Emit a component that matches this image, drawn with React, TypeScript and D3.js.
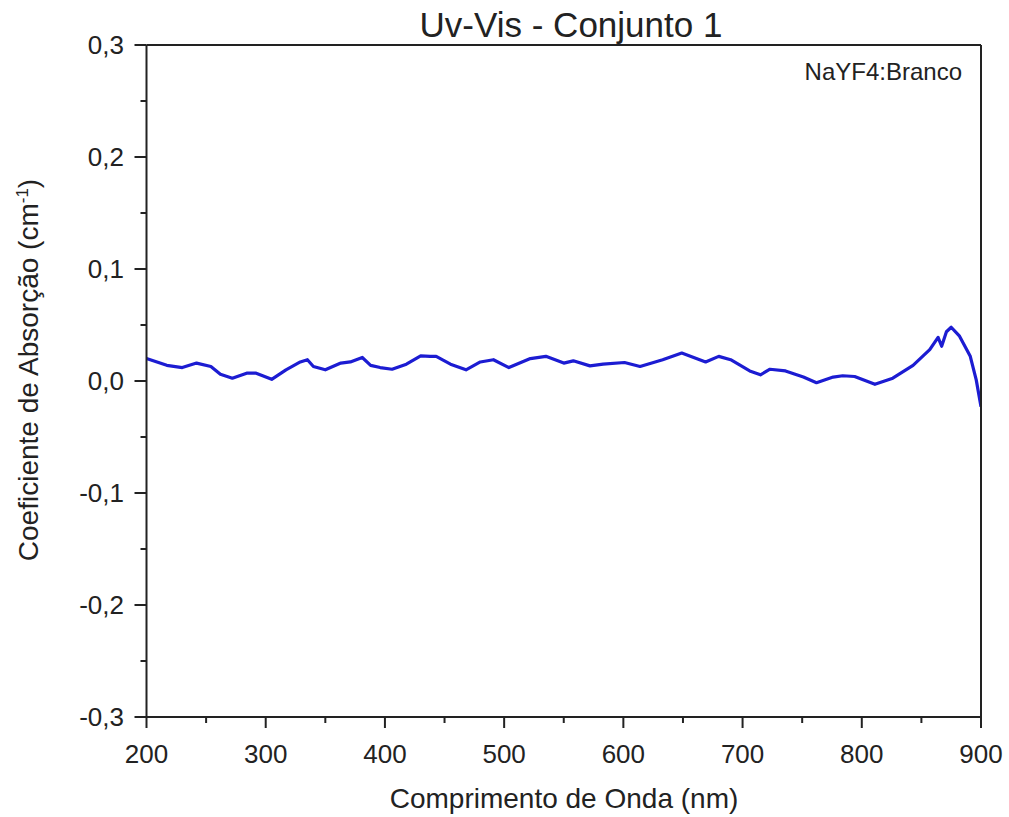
import React from "react";
import * as d3 from "d3";

const wavelengths = [200, 217, 230, 242, 254, 262, 272, 284, 292, 305, 317, 329, 335, 340, 350, 363, 371, 381, 388, 396, 406, 418, 430, 438, 443, 455, 468, 480, 491, 504, 522, 535, 550, 558, 572, 583, 601, 614, 633, 649, 659, 669, 680, 690, 706, 715, 723, 736, 751, 762, 776, 784, 794, 811, 826, 843, 857, 864, 867, 871, 875, 882, 891, 896, 900];
const absorption = [0.020, 0.014, 0.012, 0.016, 0.013, 0.006, 0.0025, 0.007, 0.007, 0.0015, 0.010, 0.017, 0.019, 0.013, 0.010, 0.016, 0.017, 0.021, 0.014, 0.012, 0.0105, 0.015, 0.0225, 0.022, 0.022, 0.015, 0.010, 0.017, 0.019, 0.012, 0.020, 0.022, 0.016, 0.018, 0.0135, 0.015, 0.0165, 0.013, 0.019, 0.025, 0.021, 0.017, 0.022, 0.019, 0.009, 0.0055, 0.0105, 0.009, 0.0035, -0.0015, 0.0035, 0.0047, 0.004, -0.003, 0.0025, 0.014, 0.028, 0.039, 0.031, 0.044, 0.048, 0.040, 0.022, 0.001, -0.023];

const xTicks = [200, 300, 400, 500, 600, 700, 800, 900];
const xMinorTicks = [250, 350, 450, 550, 650, 750, 850];
const yTicks = [-0.3, -0.2, -0.1, 0.0, 0.1, 0.2, 0.3];
const yMinorTicks = [-0.25, -0.15, -0.05, 0.05, 0.15, 0.25];

const title = "Uv-Vis - Conjunto 1";
const xLabel = "Comprimento de Onda (nm)";
const seriesLabel = "NaYF4:Branco";

const W = 1009;
const H = 817;
const left = 146.5;
const right = 981;
const top = 45;
const bottom = 717;
const FONT = "'Liberation Sans', Arial, Helvetica, sans-serif";

export default function App() {
  const x = d3.scaleLinear().domain([200, 900]).range([left, right]);
  const y = d3.scaleLinear().domain([-0.3, 0.3]).range([bottom, top]);
  const pts = wavelengths.map((w, i) => [w, absorption[i]] as [number, number]);
  const line = d3
    .line<[number, number]>()
    .x((d) => x(d[0]))
    .y((d) => y(d[1]))
    .curve(d3.curveLinear);
  const fmt = (v: number) => d3.format(".1f")(v).replace(".", ",").replace("−", "-");

  return (
    <svg
      width={W}
      height={H}
      style={{ position: "absolute", left: 0, top: 0, background: "#fff" }}
      fontFamily={FONT}
    >
      <rect x={0} y={0} width={W} height={H} fill="#fff" />
      <clipPath id="plotclip">
        <rect x={left} y={top} width={right - left} height={bottom - top} />
      </clipPath>
      <path
        d={line(pts) || ""}
        fill="none"
        stroke="#1c1cd2"
        strokeWidth={3.2}
        strokeLinejoin="round"
        clipPath="url(#plotclip)"
      />
      {/* frame */}
      <line x1={left} x2={right} y1={top} y2={top} stroke="#222" strokeWidth={2} />
      <line x1={right} x2={right} y1={top} y2={bottom} stroke="#222" strokeWidth={2} />
      <line x1={left} x2={left} y1={top} y2={bottom} stroke="#222" strokeWidth={2} />
      <line x1={left} x2={right} y1={bottom} y2={bottom} stroke="#222" strokeWidth={2} />
      {/* x ticks */}
      {xTicks.map((t) => (
        <g key={"xt" + t}>
          <line x1={x(t)} x2={x(t)} y1={bottom} y2={bottom + 11} stroke="#222" strokeWidth={2} />
          <text x={x(t)} y={763} fontSize={26} textAnchor="middle" fill="#222">
            {t}
          </text>
        </g>
      ))}
      {xMinorTicks.map((t) => (
        <line key={"xm" + t} x1={x(t)} x2={x(t)} y1={bottom} y2={bottom + 6} stroke="#222" strokeWidth={2} />
      ))}
      {/* y ticks */}
      {yTicks.map((t) => (
        <g key={"yt" + t}>
          <line x1={left - 12} x2={left} y1={y(t)} y2={y(t)} stroke="#222" strokeWidth={2} />
          <text x={124} y={y(t) + 9} fontSize={26} textAnchor="end" fill="#222">
            {fmt(t)}
          </text>
        </g>
      ))}
      {yMinorTicks.map((t) => (
        <line key={"ym" + t} x1={left - 6} x2={left} y1={y(t)} y2={y(t)} stroke="#222" strokeWidth={2} />
      ))}
      {/* title */}
      <text x={571} y={37} fontSize={35} textAnchor="middle" fill="#222">
        {title}
      </text>
      {/* series annotation */}
      <text x={962} y={80} fontSize={24} textAnchor="end" fill="#222">
        {seriesLabel}
      </text>
      {/* x label */}
      <text x={564} y={808} fontSize={28} textAnchor="middle" fill="#222">
        {xLabel}
      </text>
      {/* y label */}
      <text
        transform="translate(38,370) rotate(-90)"
        fontSize={28}
        textAnchor="middle"
        fill="#222"
      >
        Coeficiente de Absorção (cm
        <tspan dy={-10} fontSize={17}>-1</tspan>
        <tspan dy={10}>)</tspan>
      </text>
    </svg>
  );
}
